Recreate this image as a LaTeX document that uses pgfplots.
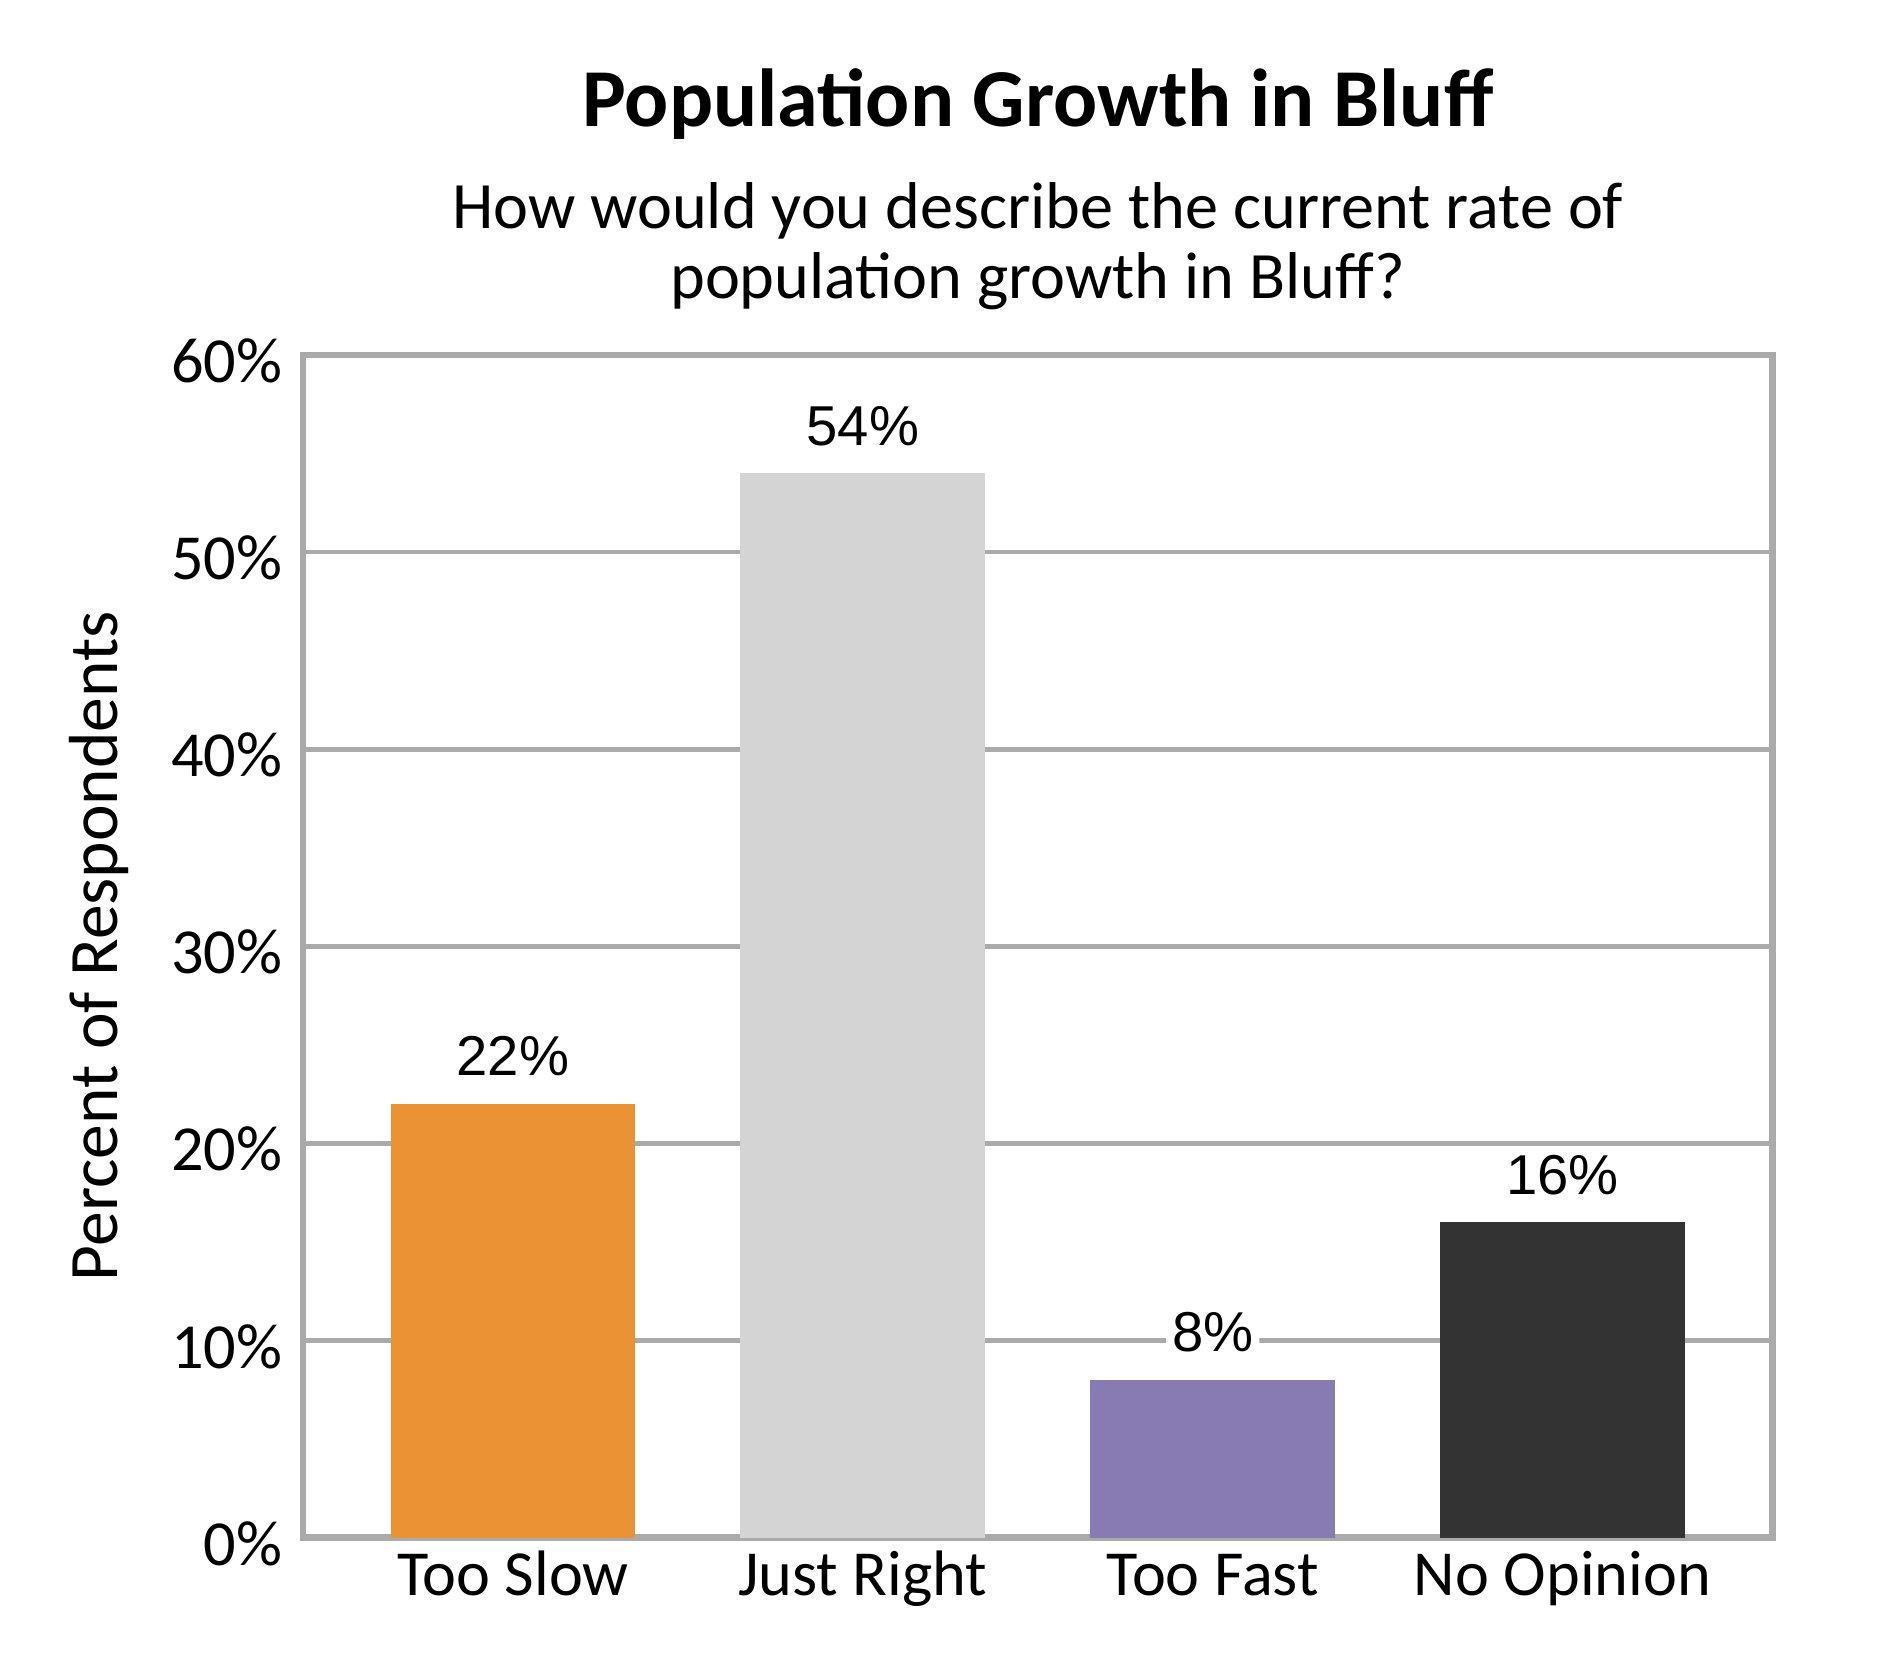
\documentclass[border=0pt]{standalone}
\usepackage{pgfplots}
\pgfplotsset{compat=1.18}
\usepackage{fontspec}
\setmainfont{Carlito}
\newfontfamily\arialfont{Liberation Sans}

\definecolor{slowc}{RGB}{235,146,52}
\definecolor{rightc}{RGB}{212,212,212}
\definecolor{fastc}{RGB}{136,123,180}
\definecolor{noopc}{RGB}{51,51,51}
\definecolor{framegray}{RGB}{170,170,170}

\begin{document}
\begin{tikzpicture}
\begin{axis}[
    scale only axis,
    width=366pt, height=294.6pt,
    xmin=-0.6, xmax=3.6,
    ymin=0, ymax=60,
    ybar, bar width=0.7, bar shift=0pt,
    axis line style={draw=framegray, line width=1.65pt},
    ymajorgrids,
    grid style={draw=framegray, line width=1.2pt},
    major tick length=0pt,
    xtick={0,1,2,3},
    xticklabels={Too Slow, Just Right, Too Fast, No Opinion},
    ytick={0,10,...,60},
    yticklabels={0\%,10\%,20\%,30\%,40\%,50\%,60\%},
    tick label style={font=\fontsize{16}{16}\selectfont},
    yticklabel style={anchor=east, inner sep=0pt, xshift=-5pt, yshift=-1.5pt},
    xticklabel style={anchor=base, inner sep=0pt, yshift=-14.5pt},
    ylabel={Percent of Respondents},
    ylabel style={font=\fontsize{17.3}{17.3}\selectfont, at={(axis description cs:-0.139,0.5)}, anchor=center},
    nodes near coords={\pgfmathprintnumber[assume math mode=true]{\pgfplotspointmeta}\%},
    every node near coord/.append style={anchor=base, yshift=7pt, fill=white, inner sep=1.5pt,
        rounded corners=2pt, font=\arialfont\fontsize{14}{14}\selectfont, text=black},
]
\addplot[fill=slowc, draw=none] coordinates {(0,22)};
\addplot[fill=rightc, draw=none] coordinates {(1,54)};
\addplot[fill=fastc, draw=none] coordinates {(2,8)};
\addplot[fill=noopc, draw=none] coordinates {(3,16)};

\coordinate (sw) at (rel axis cs:0,0);
\coordinate (ne) at (rel axis cs:1,1);
\coordinate (nt) at (rel axis cs:0.5,1);
\end{axis}
\node[anchor=base, font=\bfseries\fontsize{20.5}{20.5}\selectfont] at ([yshift=57pt]nt) {Population Growth in Bluff};
\node[anchor=base, font=\fontsize{16.5}{16.5}\selectfont] at ([yshift=31.5pt]nt) {How would you describe the current rate of};
\node[anchor=base, font=\fontsize{16.5}{16.5}\selectfont] at ([yshift=14.1pt]nt) {population growth in Bluff?};
\pgfresetboundingbox
\path[use as bounding box] ([shift={(-75.5pt,-35.3pt)}]sw) rectangle ([shift={(29.3pt,88.4pt)}]ne);
\end{tikzpicture}
\end{document}
